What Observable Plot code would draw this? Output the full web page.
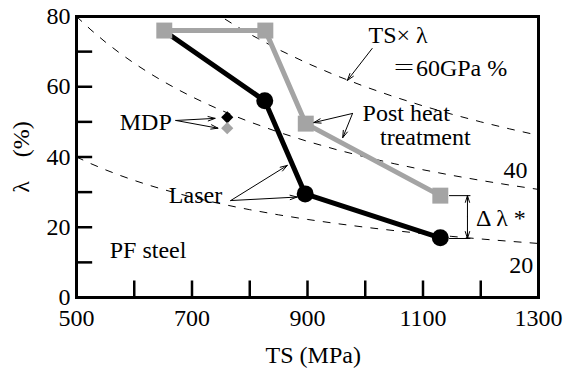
<!DOCTYPE html>
<html><head><meta charset="utf-8">
<script src="https://cdn.jsdelivr.net/npm/d3@7"></script>
<script src="https://cdn.jsdelivr.net/npm/@observablehq/plot@0.6"></script>
<style>
body{margin:0;background:#fff}
svg text, svg g[aria-label] {font-family: "Times New Roman", "Liberation Serif", "DejaVu Serif", "Noto Serif", "Noto Serif CJK JP", Times, serif !important;}
</style>
</head><body><div id="chart"></div>
<script>
// Data
const laserTS = [655, 826, 896, 1130];
const laserLambda = [75.5, 56, 29.5, 17];
const heatTS = [652, 827, 897, 1130];
const heatLambda = [76, 76, 49.5, 29];
const mdpTS = [761, 761];
const mdpLambda = [51.3, 48.2];
const mdpKind = ["laser", "heat"];
const isoLevels = [20, 40, 60]; // TS x lambda, GPa%
const isoSampleTS = [500, 525, 550, 575, 600, 625, 650, 675, 700, 725, 750, 775, 800, 850, 900, 950, 1000, 1050, 1100, 1150, 1200, 1250, 1300];
const xTickLabels = [500, 700, 900, 1100, 1300];
const xMinorTicks = [600, 700, 800, 900, 1000, 1100, 1200];
const yTickLabels = [0, 20, 40, 60, 80];
const yMinorTicks = [10, 20, 30, 40, 50, 60, 70];

const labels = [
  {text: "TS× λ", x: 1057, y: 74.6},
  {text: "＝60GPa %", x: 1146, y: 65.2},
  {text: "Post heat", x: 1071, y: 52.4},
  {text: "treatment", x: 1104, y: 45.5},
  {text: "MDP", x: 620, y: 49.8},
  {text: "Laser", x: 706, y: 29},
  {text: "PF steel", x: 624, y: 13.4},
  {text: "40", x: 1260, y: 36.2},
  {text: "20", x: 1270, y: 9.1},
  {text: "Δ λ *", x: 1235, y: 22.6}
];
const arrows = [
  {x1: 1012, y1: 70.9, x2: 969, y2: 61.8},
  {x1: 978, y1: 52.4, x2: 911, y2: 49.8},
  {x1: 978, y1: 52.4, x2: 961, y2: 45.5},
  {x1: 672, y1: 50.4, x2: 740, y2: 51.0},
  {x1: 672, y1: 50.4, x2: 745, y2: 48.2},
  {x1: 767, y1: 27.6, x2: 865, y2: 37.6},
  {x1: 767, y1: 27.6, x2: 882, y2: 28.6},
  {x1: 1177, y1: 23, x2: 1177, y2: 29},
  {x1: 1177, y1: 23, x2: 1177, y2: 16.8}
];
const deltaRules = [29, 16.8];

const iso = isoLevels.flatMap(c => isoSampleTS.map(ts => ({level: c, ts, lambda: c * 1000 / ts})));
const laser = laserTS.map((ts, i) => ({ts, lambda: laserLambda[i]}));
const heat = heatTS.map((ts, i) => ({ts, lambda: heatLambda[i]}));
const mdp = mdpTS.map((ts, i) => ({ts, lambda: mdpLambda[i], kind: mdpKind[i]}));

const font = "'Times New Roman', 'Liberation Serif', 'DejaVu Serif', serif";
const GRAY = "#a4a4a4";

const chart = Plot.plot({
  width: 565, height: 374,
  marginLeft: 76, marginRight: 27, marginTop: 16, marginBottom: 77,
  x: {domain: [500, 1300]},
  y: {domain: [0, 80]},
  style: {fontFamily: font, fontSize: "24px", background: "white", color: "black"},
  marks: [
    Plot.line(iso, {x: "ts", y: "lambda", z: "level", stroke: "black", strokeWidth: 1, strokeDasharray: "7,9", clip: true}),
    Plot.ruleX(xMinorTicks, {x: d => d, y1: 0, y2: 4.7, stroke: "black", strokeWidth: 2.5}),
    Plot.ruleY(yMinorTicks, {y: d => d, x1: 500, x2: 528, stroke: "black", strokeWidth: 2.5}),
    Plot.frame({stroke: "black", strokeWidth: 3}),
    Plot.axisX({ticks: xTickLabels, tickSize: 0, tickPadding: 11, fontSize: 24, fontFamily: font, label: null, tickFormat: d => String(d)}),
    Plot.axisY({ticks: yTickLabels, tickSize: 0, tickPadding: 6, fontSize: 24, fontFamily: font, label: null, tickFormat: d => String(d)}),
    Plot.line(laser, {x: "ts", y: "lambda", stroke: "black", strokeWidth: 5}),
    Plot.line(heat, {x: "ts", y: "lambda", stroke: GRAY, strokeWidth: 5}),
    Plot.dot(laser.slice(1), {x: "ts", y: "lambda", r: 8.5, fill: "black"}),
    Plot.dot(heat, {x: "ts", y: "lambda", symbol: "square", r: 9, fill: GRAY}),
    Plot.dot(mdp, {x: "ts", y: "lambda", symbol: "diamond2", r: 5.5, fill: d => d.kind === "laser" ? "black" : GRAY}),
    Plot.ruleY(deltaRules, {y: d => d, x1: 1146, x2: 1183, stroke: "black", strokeWidth: 1}),
    Plot.arrow(arrows, {x1: "x1", y1: "y1", x2: "x2", y2: "y2", stroke: "black", strokeWidth: 1, headLength: 11, headAngle: 35}),
    Plot.text(labels, {x: "x", y: "y", text: "text", fontSize: 24, fontFamily: font, textAnchor: "middle", fill: "black"}),
    Plot.text(["TS (MPa)"], {x: 910, y: 0, dy: 58, text: d => d, fontSize: 24, fontFamily: font, fill: "black"}),
    Plot.text(["λ　(%)"], {x: 500, y: 40, dx: -55, rotate: -90, text: d => d, fontSize: 24, fontFamily: font, fill: "black"})
  ]
});
document.getElementById("chart").appendChild(chart);
</script>
</body></html>
